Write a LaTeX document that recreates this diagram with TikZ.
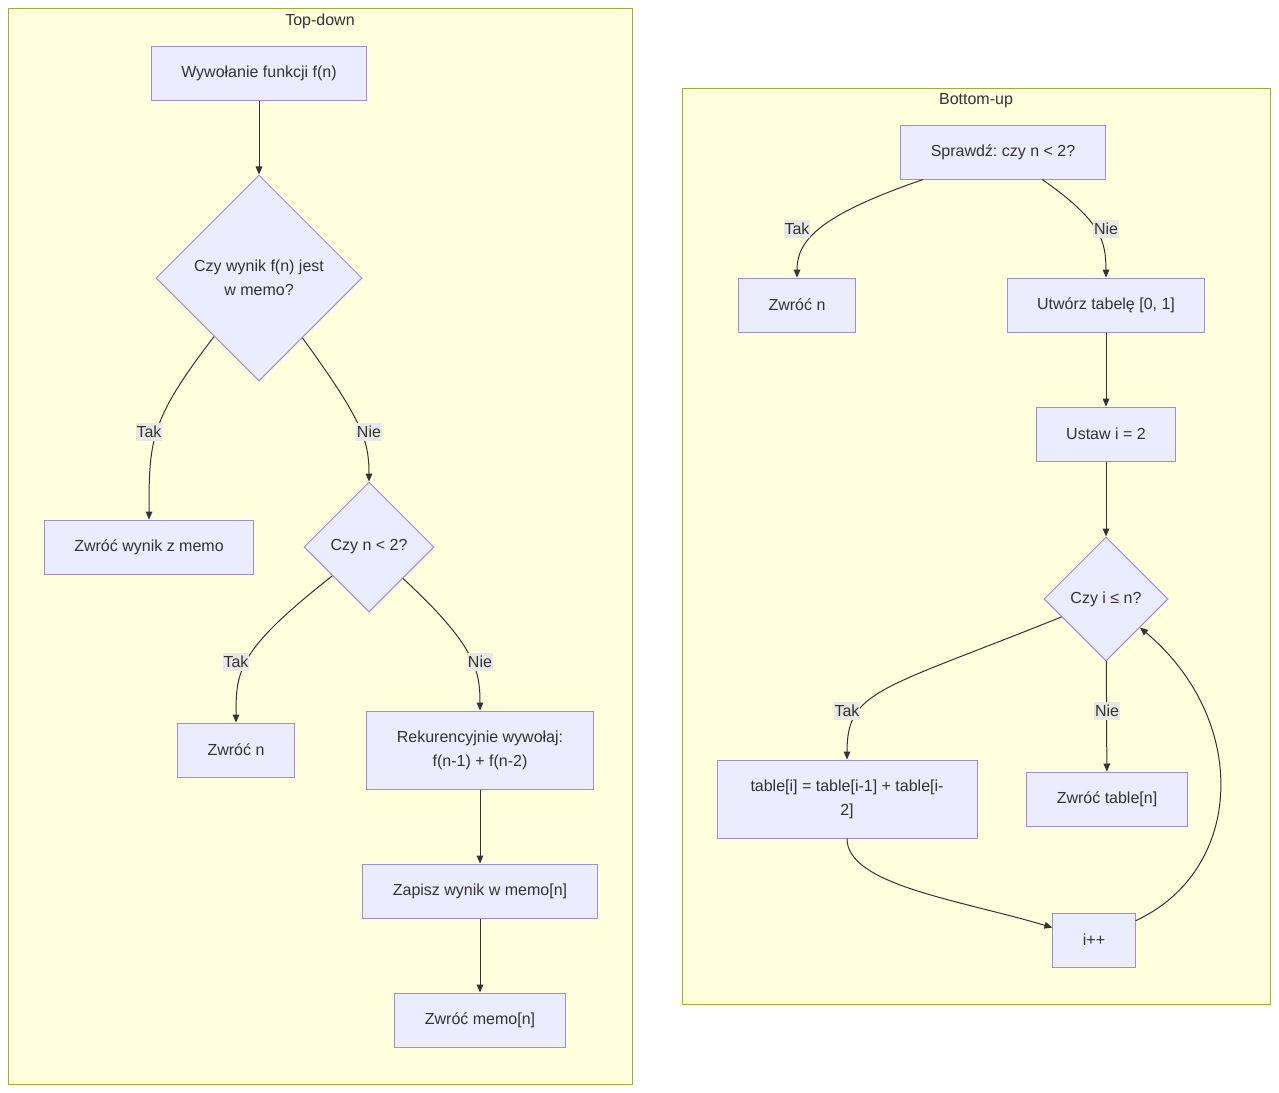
\documentclass[tikz,border=0pt]{standalone}
\usepackage{fontspec}
\setmainfont{Liberation Sans}
\frenchspacing
\usetikzlibrary{shapes.geometric,arrows.meta}
\definecolor{clusterfill}{HTML}{FFFFDE}
\definecolor{clusterline}{HTML}{AAAA33}
\definecolor{nodefill}{HTML}{ECECFF}
\definecolor{nodeline}{HTML}{A08CDC}
\definecolor{edgeline}{HTML}{333333}
\definecolor{labelfill}{HTML}{E8E8E4}
\begin{document}
\begin{tikzpicture}[
        x=0.75pt, y=-0.75pt,
        font=\fontsize{12pt}{18pt}\selectfont, text=edgeline,
        cluster/.style={draw=clusterline, fill=clusterfill, line width=0.75pt},
        basebox/.style={draw=nodeline, fill=nodefill, line width=0.75pt, align=center, inner xsep=22.5pt, inner ysep=0pt, minimum height=40.5pt},
        decision/.style={diamond, draw=nodeline, fill=nodefill, line width=0.75pt, align=center, inner sep=0pt},
        flow/.style={draw=edgeline, line width=0.75pt, -{Triangle[length=6pt,width=5pt]}},
        lbl/.style={fill=labelfill, inner xsep=0.5pt, inner ysep=2.5pt, text=edgeline}
    ]

        \fill[white] (0,0) rectangle (1279,1093);
        \useasboundingbox (0,0) rectangle (1279,1093);

        % Clusters
        \draw[cluster] (8,8) rectangle (632,1084);
        \node (tdtitle) at (320,21) {Top-down};
        \draw[cluster] (682,88) rectangle (1270,1004);
        \node (butitle) at (976,101) {Bottom-up};

        % 1. Top-down (memo)
        \node[basebox] (call) at (259,73) {Wywołanie funkcji f(n)};
        \node[decision, minimum width=154.5pt, minimum height=154.5pt] (memo) at (259,278) {Czy wynik f(n) jest\\w memo?};
        \node[basebox] (retmemo) at (149,547) {Zwróć wynik z memo};
        \node[decision, minimum width=97.5pt, minimum height=97.5pt] (small) at (369,547) {Czy n < 2?};
        \node[basebox] (retn) at (236,750) {Zwróć n};
        \node[basebox, minimum height=58.5pt] (rec) at (480,750) {Rekurencyjnie wywołaj:\\f(n-1) + f(n-2)};
        \node[basebox] (save) at (480,891) {Zapisz wynik w memo[n]};
        \node[basebox] (retval) at (480,1020) {Zwróć memo[n]};

        % 2. Bottom-up (table)
        \node[basebox] (check) at (1003,152) {Sprawdź: czy n < 2?};
        \node[basebox] (retn2) at (797,305) {Zwróć n};
        \node[basebox] (table) at (1106,305) {Utwórz tabelę [0, 1]};
        \node[basebox] (seti) at (1106,434) {Ustaw i = 2};
        \node[decision, minimum width=93pt, minimum height=93pt] (loop) at (1106,599) {Czy i ≤ n?};
        \node[basebox, minimum height=58.5pt, minimum width=195pt] (calc) at (847,799) {table[i] = table[i-1] + table[i-\\2]};
        \node[basebox] (rett) at (1107,799) {Zwróć table[n]};
        \node[basebox] (inc) at (1094,940) {i++};

        % --- Connectors ---
        \draw[flow] (call) -- (memo);
        \draw[flow] (memo) .. controls (150,420) and (149,440) .. (retmemo);
        \draw[flow] (memo) .. controls (362,420) and (369,440) .. (small);
        \draw[flow] (small) .. controls (238,650) and (236,670) .. (retn);
        \draw[flow] (small) .. controls (475,645) and (480,670) .. (rec);
        \draw[flow] (rec) -- (save);
        \draw[flow] (save) -- (retval);

        \draw[flow] (check) .. controls (820,215) and (797,240) .. (retn2);
        \draw[flow] (check) .. controls (1100,220) and (1106,240) .. (table);
        \draw[flow] (table) -- (seti);
        \draw[flow] (seti) -- (loop);
        \draw[flow] (loop) .. controls (880,690) and (847,690) .. (calc);
        \draw[flow] (loop) -- (rett);
        \draw[flow] (calc) .. controls (847,885) and (960,900) .. (inc);
        \draw[flow] (inc) .. controls (1245,870) and (1250,720) .. (loop);

        % --- Edge labels ---
        \node[lbl] (tak1) at (149,432) {Tak};
        \node[lbl] (nie1) at (369,432) {Nie};
        \node[lbl] (tak2) at (236,662) {Tak};
        \node[lbl] (nie2) at (480,662) {Nie};
        \node[lbl] (tak3) at (797,229) {Tak};
        \node[lbl] (nie3) at (1106,229) {Nie};
        \node[lbl] (tak4) at (847,711) {Tak};
        \node[lbl] (nie4) at (1107,711) {Nie};

    \end{tikzpicture}
\end{document}
